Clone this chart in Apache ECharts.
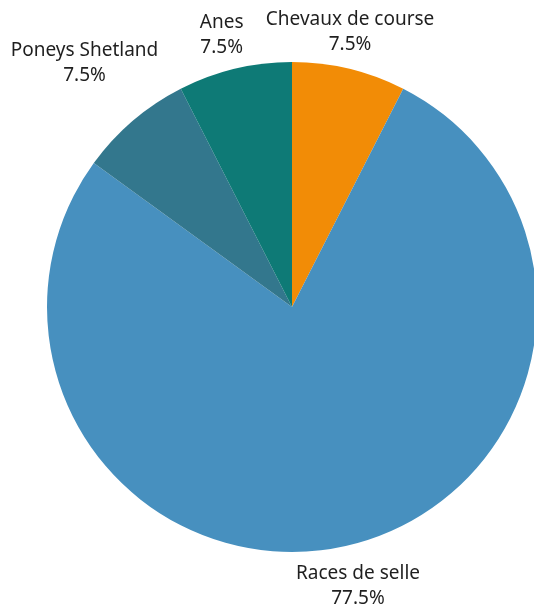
<!DOCTYPE html>
<html>
<head>
<meta charset="utf-8">
<script src="https://cdn.jsdelivr.net/npm/echarts@6/dist/echarts.min.js"></script>
<style>
  html, body { margin: 0; padding: 0; background: #fff; }
  #chart { width: 534px; height: 606px; }
</style>
</head>
<body>
<div id="chart"></div>
<script>
// clockwise from 12 o'clock
const categories = ["Chevaux de course", "Races de selle", "Poneys Shetland", "Anes"];
const shares = [7.5, 77.5, 7.5, 7.5];

const colors = ["#F28C06", "#4790BF", "#33778D", "#0E7A76"];
// label offset per slice (outside radius, horizontal nudge)
const labelLen = [38, 42, 76, 35];
const labelGap = [-8, -1, -1, 5];

const chart = echarts.init(document.getElementById("chart"), null, { renderer: "canvas" });

chart.setOption({
  animation: false,
  series: [{
    type: "pie",
    center: [292, 307],
    radius: 245,
    startAngle: 90,
    clockwise: true,
    avoidLabelOverlap: false,
    itemStyle: { borderWidth: 0 },
    label: {
      show: true,
      position: "outside",
      formatter: "{b}\n{d}%",
      color: "#1f1f1f",
      fontFamily: "Noto Sans",
      fontSize: 19,
      lineHeight: 25,
    },
    labelLine: { show: false, length2: 0 },
    labelLayout: () => ({ align: "center", verticalAlign: "middle" }),
    emphasis: { disabled: true },
    data: categories.map((name, i) => ({
      name,
      value: shares[i],
      itemStyle: { color: colors[i] },
      label: { distanceToLabelLine: labelGap[i] },
      labelLine: { length: labelLen[i] },
    })),
  }],
});
</script>
</body>
</html>
